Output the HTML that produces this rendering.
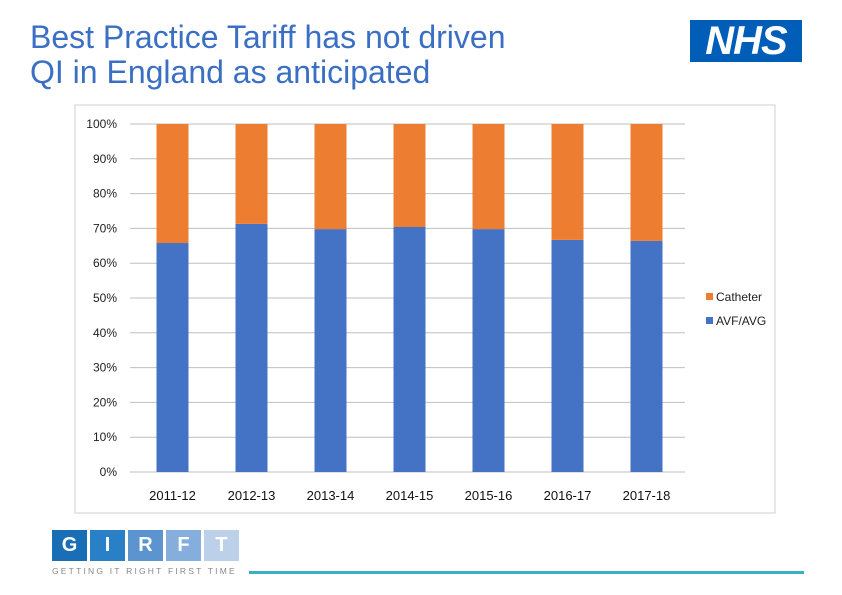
<!DOCTYPE html>
<html><head><meta charset="utf-8"><style>
body{margin:0;width:842px;height:595px;background:#fff;position:relative;overflow:hidden;font-family:"Liberation Sans",sans-serif}
.abs{position:absolute}
</style></head><body>
<div class="abs" style="left:30px;top:20px;font-size:32px;line-height:35px;color:#3a6fc4;white-space:nowrap">Best Practice Tariff has not driven<br>QI in England as anticipated</div>
<div class="abs" style="left:690px;top:20px;width:112px;height:42px;background:#005eb8;color:#fff;font-weight:bold;font-style:italic;font-size:40px;line-height:42px;text-align:center;letter-spacing:-1px">NHS</div>
<svg class="abs" style="left:0;top:0" width="842" height="595" id="chart">
<rect x="75" y="105" width="700" height="408" fill="#fff" stroke="#d0d0d0"/>
<g id="grid"></g><g id="bars"></g><g id="labels"></g>
<rect x="706" y="293" width="7" height="7" fill="#ed7d31"/>
<text x="716" y="301" font-size="12" fill="#222">Catheter</text>
<rect x="706" y="317" width="7" height="7" fill="#4472c4"/>
<text x="716" y="325" font-size="12" fill="#222">AVF/AVG</text>
</svg>
<div class="abs" style="left:52px;top:530px;">
<div style="display:flex;gap:3px">
<div style="width:35px;height:31px;background:#1a6eb5;color:#fff;font-weight:bold;font-size:20px;text-align:center;line-height:31px">G</div>
<div style="width:35px;height:31px;background:#2a80c6;color:#fff;font-weight:bold;font-size:20px;text-align:center;line-height:31px">I</div>
<div style="width:35px;height:31px;background:#5b94cf;color:#fff;font-weight:bold;font-size:20px;text-align:center;line-height:31px">R</div>
<div style="width:35px;height:31px;background:#86aedd;color:#fff;font-weight:bold;font-size:20px;text-align:center;line-height:31px">F</div>
<div style="width:35px;height:31px;background:#bcd0ea;color:#fff;font-weight:bold;font-size:20px;text-align:center;line-height:31px">T</div>
</div>
<div style="font-size:8.5px;color:#888;letter-spacing:2.2px;margin-top:5px;white-space:nowrap">GETTING IT RIGHT FIRST TIME</div>
</div>
<div class="abs" style="left:249px;top:571px;width:555px;height:3px;background:#3ab0c8"></div>
<script>
const categories=["2011-12","2012-13","2013-14","2014-15","2015-16","2016-17","2017-18"];
const avfValues=[65.8,71.3,69.8,70.4,69.8,66.7,66.4];
const catheterValues=[34.2,28.7,30.2,29.6,30.2,33.3,33.6];
const yTicks=[0,10,20,30,40,50,60,70,80,90,100];
const NS="http://www.w3.org/2000/svg";
const x0=130,x1=685,yTop=124,yBot=472;
const bx0=133,bx1=686;
const y=v=>yBot-(v/100)*(yBot-yTop);
const band=(bx1-bx0)/categories.length;
const xc=i=>bx0+band*(i+0.5);
function mk(t,a,p){const e=document.createElementNS(NS,t);for(const k in a)e.setAttribute(k,a[k]);p.appendChild(e);return e;}
const g=document.getElementById('grid'),b=document.getElementById('bars'),l=document.getElementById('labels');
yTicks.forEach(t=>{
const ln=mk('line',{x1:x0,x2:x1,y1:y(t),y2:y(t),stroke:'#bfbfbf','stroke-width':1},g);


const tx=mk('text',{x:117,y:y(t)+4,'text-anchor':'end','font-size':12,fill:'#222'},l);
tx.textContent=t+'%';


});
categories.forEach((c,i)=>{
const w=32,x=xc(i)-w/2;
const r1=mk('rect',{x:x,y:y(avfValues[i]),width:w,height:yBot-y(avfValues[i]),fill:'#4472c4'},b);


const top=avfValues[i]+catheterValues[i];
const r2=mk('rect',{x:x,y:y(top),width:w,height:y(avfValues[i])-y(top),fill:'#ed7d31'},b);


const tx=mk('text',{x:xc(i),y:500,'text-anchor':'middle','font-size':13,fill:'#111'},l);
tx.textContent=c;


});
</script>
</body></html>
